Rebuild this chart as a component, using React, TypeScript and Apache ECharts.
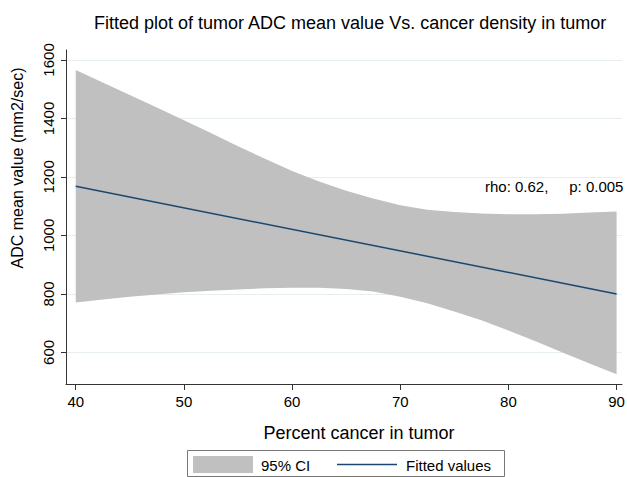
import React, { useEffect, useRef } from "react";
import * as echarts from "echarts";

const FONT = "'Liberation Sans', Arial, Helvetica, sans-serif";

const titleText = "Fitted plot of tumor ADC mean value Vs. cancer density in tumor";
const xAxisTitle = "Percent cancer in tumor";
const yAxisTitle = "ADC mean value (mm2/sec)";
const annotation = "rho: 0.62,     p: 0.005";

const xTicks = [40, 50, 60, 70, 80, 90];
const yTicks = [600, 800, 1000, 1200, 1400, 1600];

// CI band
const ciX = [40, 42.5, 45, 47.5, 50, 52.5, 55, 57.5, 60, 62.5, 65, 67.5, 70, 72.5, 75, 77.5, 80, 82.5, 85, 87.5, 90];
const ciUpper = [1566, 1523, 1480, 1437, 1394, 1350, 1305, 1262, 1220, 1184, 1153, 1126, 1103, 1088, 1080, 1075, 1072, 1072, 1074, 1078, 1082];
const ciLower = [771, 781, 790, 798, 806, 811, 815, 819, 821, 821, 817, 808, 790, 768, 740, 710, 675, 638, 600, 562, 525];

// Fitted line end points
const fitX = [40, 90];
const fitY = [1168, 800];

const legendLabels = ["95% CI", "Fitted values"];

export default function App() {
  const ref = useRef<HTMLDivElement>(null);

  useEffect(() => {
    if (!ref.current) return;
    const chart = echarts.init(ref.current, undefined, { renderer: "svg" });

    const bandData = ciX.map((x, i) => [x, ciUpper[i], ciLower[i]]);

    const option: any = {
      animation: false,
      backgroundColor: "#ffffff",
      textStyle: { fontFamily: FONT },
      title: {
        text: titleText,
        left: 94,
        top: 14,
        padding: 0,
        textStyle: { fontSize: 18, fontWeight: "normal", color: "#000", fontFamily: FONT },
      },
      grid: { left: 66, right: 5, top: 50, bottom: 93, outerBoundsMode: "none" },
      xAxis: {
        type: "value",
        min: 39.1,
        max: 90.5,
        axisLine: { show: true, lineStyle: { color: "#333", width: 1 } },
        axisTick: { show: true, length: 6, customValues: xTicks, lineStyle: { color: "#333" } },
        axisLabel: {
          customValues: xTicks,
          fontSize: 15,
          color: "#000",
          margin: 10,
          fontFamily: FONT,
          formatter: (v: number) => String(v),
        },
        splitLine: { show: false },
      },
      yAxis: {
        type: "value",
        min: 492,
        max: 1634,
        axisLine: { show: true, lineStyle: { color: "#333", width: 1 } },
        axisTick: { show: true, length: 5, customValues: yTicks, lineStyle: { color: "#333" } },
        axisLabel: {
          customValues: yTicks,
          fontSize: 15,
          color: "#000",
          margin: 10,
          rotate: 90,
          fontFamily: FONT,
          formatter: (v: number) => String(v),
        },
        splitLine: { show: true, lineStyle: { color: "#e6eef0", width: 1 } },
      },
      series: [
        {
          name: legendLabels[0],
          type: "custom",
          silent: true,
          encode: { x: 0, y: [1, 2] },
          data: bandData,
          renderItem: (params: any, api: any) => {
            if (params.dataIndex !== 0) return null;
            const upperPts = bandData.map((d) => api.coord([d[0], d[1]]));
            const lowerPts = bandData.map((d) => api.coord([d[0], d[2]])).reverse();
            return {
              type: "polygon",
              shape: { points: upperPts.concat(lowerPts) },
              style: { fill: "#c0c0c0", stroke: "none" },
            };
          },
          z: 1,
        },
        {
          name: legendLabels[1],
          type: "line",
          symbol: "none",
          lineStyle: { color: "#1a476f", width: 1.5 },
          itemStyle: { color: "#1a476f" },
          data: fitX.map((x, i) => [x, fitY[i]]),
          z: 3,
        },
      ],
      graphic: [
        {
          type: "text",
          x: 17,
          y: 168,
          rotation: Math.PI / 2,
          style: { text: yAxisTitle, fontSize: 16, fill: "#000", fontFamily: FONT, align: "center", verticalAlign: "middle" },
        },
        {
          type: "text",
          x: 359,
          y: 433,
          style: { text: xAxisTitle, fontSize: 18, fill: "#000", fontFamily: FONT, align: "center", verticalAlign: "middle" },
        },
        {
          type: "text",
          x: 485,
          y: 186,
          style: { text: annotation, fontSize: 15, fill: "#000", fontFamily: FONT, align: "left", verticalAlign: "middle" },
        },
        {
          type: "rect",
          shape: { x: 187.5, y: 450.5, width: 317, height: 26 },
          style: { fill: "#fff", stroke: "#777", lineWidth: 1 },
        },
        {
          type: "rect",
          shape: { x: 193, y: 456, width: 60, height: 17 },
          style: { fill: "#c0c0c0" },
        },
        {
          type: "text",
          x: 261,
          y: 465,
          style: { text: legendLabels[0], fontSize: 15, fill: "#000", fontFamily: FONT, align: "left", verticalAlign: "middle" },
        },
        {
          type: "line",
          shape: { x1: 337, y1: 464.5, x2: 397, y2: 464.5 },
          style: { stroke: "#1a476f", lineWidth: 1.5 },
        },
        {
          type: "text",
          x: 406,
          y: 465,
          style: { text: legendLabels[1], fontSize: 15, fill: "#000", fontFamily: FONT, align: "left", verticalAlign: "middle" },
        },
      ],
    };

    chart.setOption(option);
    return () => chart.dispose();
  }, []);

  return (
    <div
      ref={ref}
      style={{ position: "absolute", left: 0, top: 0, width: 627, height: 477 }}
    />
  );
}
